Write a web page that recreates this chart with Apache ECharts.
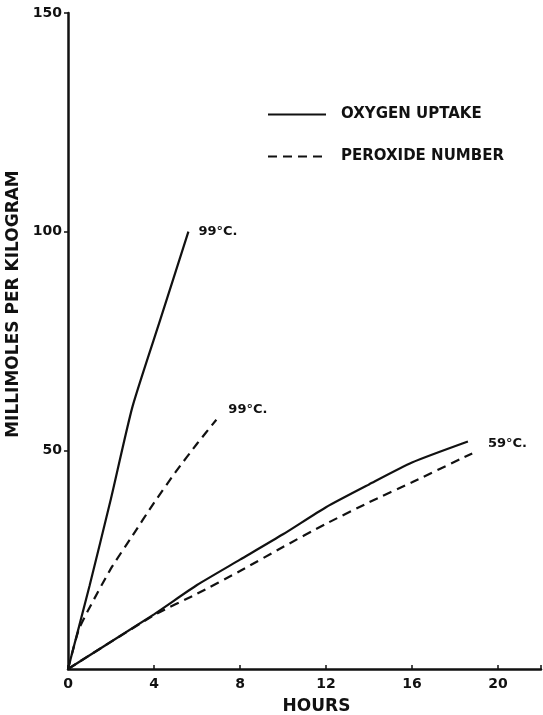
<!DOCTYPE html>
<html>
<head>
<meta charset="utf-8">
<script src="https://cdn.jsdelivr.net/npm/echarts@6/dist/echarts.min.js"></script>
<style>
  html, body { margin: 0; padding: 0; background: #fff; }
  #chart { width: 543px; height: 715px; }
</style>
</head>
<body>
<div id="chart"></div>
<script>
// hours vs millimoles per kilogram
const oxy99 = [[0, 0], [1, 19], [2, 39], [3, 60], [4.3, 80], [5.6, 100]]
const perox99 = [[0, 0], [0.5, 9], [1, 14], [2, 23], [3, 30.5], [4, 38], [5, 45], [6, 51.5], [6.9, 57]]
const oxy59 = [[0, 0], [4, 12.5], [6, 19.2], [8, 25], [10, 30.8], [12, 37], [14, 42.2], [16, 47.2], [18.6, 52]]
const perox59 = [[0, 0], [4, 12.3], [6, 17.2], [8, 22.4], [10, 27.9], [12, 33.2], [14, 38.1], [16, 42.7], [18.8, 49.3]]
const xTicks = [0, 4, 8, 12, 16, 20]
const yTicks = [50, 100, 150]

const font = 'DejaVu Sans'
const ink = '#111'

const lineSeries = (name, data, type, label, offset) => ({
    name: name,
    type: 'line',
    data: data,
    symbol: 'none',
    smooth: 0.2,
    silent: true,
    itemStyle: { color: ink },
    lineStyle: { color: ink, width: 2.2, type: type === 'dashed' ? [9, 6] : 'solid' },
    endLabel: {
        show: !!label,
        formatter: label || '',
        color: ink,
        fontFamily: font,
        fontWeight: 'bold',
        fontSize: 13,
        offset: offset
    }
})

const chart = echarts.init(document.getElementById('chart'))
chart.setOption({
    animation: false,
    backgroundColor: '#fff',
    grid: { left: 68, right: 2, top: 13, bottom: 46, outerBoundsMode: 'none', containLabel: false },
    legend: {
        orient: 'vertical',
        left: 262,
        top: 102,
        itemGap: 27,
        itemWidth: 58,
        itemHeight: 16,
        itemStyle: { opacity: 0 },
        data: ['OXYGEN UPTAKE', 'PEROXIDE NUMBER'],
        textStyle: {
            color: ink, fontFamily: font, fontWeight: 'bold', fontSize: 15,
            padding: [0, 0, 0, 10]
        }
    },
    xAxis: {
        type: 'value',
        min: 0,
        max: 22,
        interval: 4,
        name: 'HOURS',
        nameLocation: 'middle',
        nameGap: 29,
        nameTextStyle: {
            color: ink, fontFamily: font, fontWeight: 'bold', fontSize: 17,
            padding: [0, 0, 0, 24]
        },
        splitLine: { show: false },
        axisLine: { lineStyle: { color: ink, width: 2.5 } },
        axisTick: { inside: true, length: 4, lineStyle: { color: ink, width: 1.5 } },
        axisLabel: {
            color: ink, fontFamily: font, fontWeight: 'bold', fontSize: 14, margin: 8,
            formatter: v => (xTicks.indexOf(v) >= 0 ? String(v) : '')
        }
    },
    yAxis: {
        type: 'value',
        min: 0,
        max: 150,
        interval: 50,
        name: 'MILLIMOLES PER KILOGRAM',
        nameLocation: 'middle',
        nameGap: 36,
        nameTextStyle: {
            color: ink, fontFamily: font, fontWeight: 'bold', fontSize: 17,
            padding: [0, 0, 0, 74]
        },
        splitLine: { show: false },
        axisLine: { lineStyle: { color: ink, width: 2.5 } },
        axisTick: { length: 4, lineStyle: { color: ink, width: 1.5 } },
        axisLabel: {
            color: ink, fontFamily: font, fontWeight: 'bold', fontSize: 14, margin: 6,
            showMinLabel: false,
            formatter: v => (yTicks.indexOf(v) >= 0 ? String(v) : '')
        }
    },
    series: [
        lineSeries('OXYGEN UPTAKE', oxy99, 'solid', '99°C.', [2, 0]),
        lineSeries('PEROXIDE NUMBER', perox99, 'dashed', '99°C.', [4, -10]),
        lineSeries('OXYGEN UPTAKE', oxy59, 'solid', '59°C.', [12, 2]),
        lineSeries('PEROXIDE NUMBER', perox59, 'dashed', '', [0, 0])
    ]
})
</script>
</body>
</html>
